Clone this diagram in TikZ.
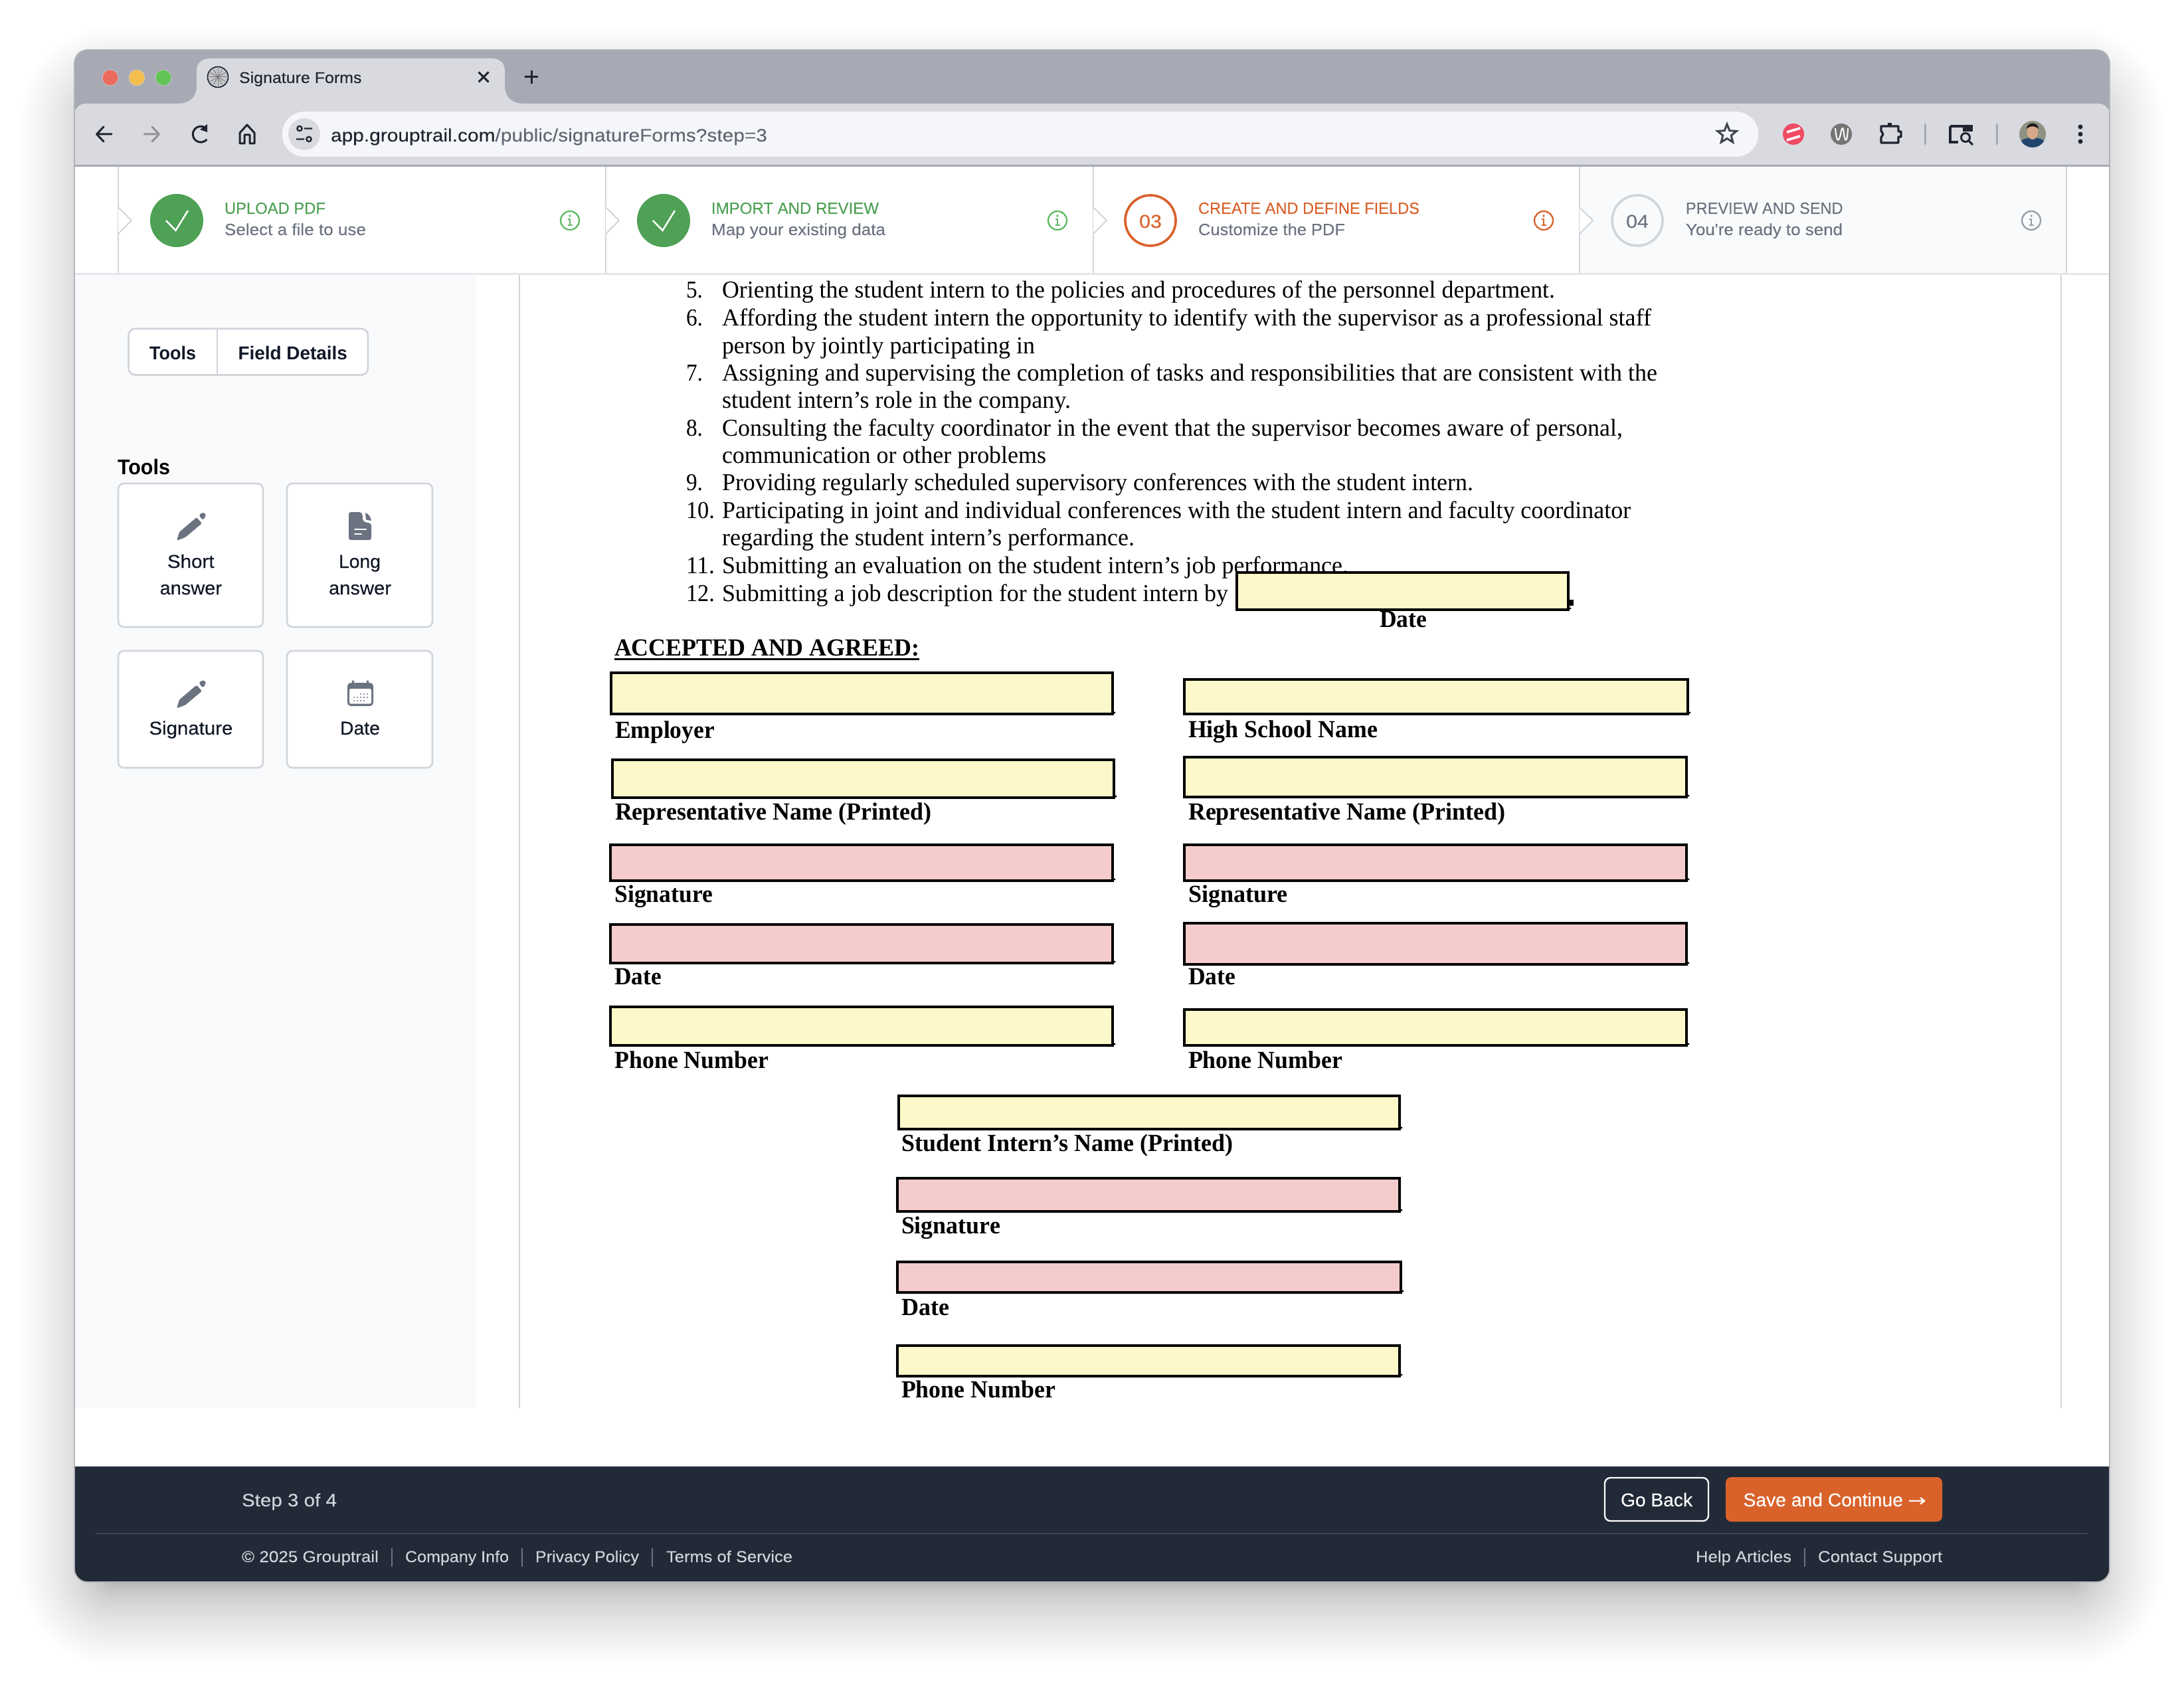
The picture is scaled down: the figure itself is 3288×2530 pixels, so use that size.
\documentclass[tikz,border=0pt]{standalone}
\usepackage{fontspec}
\usepackage{graphicx}
\usetikzlibrary{calc}
\setmainfont{Liberation Serif}
\setsansfont{Liberation Sans}
\newfontfamily\uimed[FakeBold=0.25]{Liberation Sans}
\newfontfamily\uilt[FakeBold=0.1]{Liberation Sans}
\newfontfamily\arrowfont{DejaVu Sans}
\definecolor{strip}{HTML}{A7A9B4}
\definecolor{bar}{HTML}{D9DAE0}
\definecolor{urlbg}{HTML}{F5F6F9}
\definecolor{ink}{HTML}{1F2430}
\definecolor{inkb}{HTML}{111827}
\definecolor{muted}{HTML}{6B7280}
\definecolor{rule}{HTML}{D1D5DB}
\definecolor{rulelt}{HTML}{E5E7EB}
\definecolor{side}{HTML}{F9FAFB}
\definecolor{okgreen}{HTML}{4EA155}
\definecolor{infogreen}{HTML}{5DBB63}
\definecolor{hot}{HTML}{D9622B}
\definecolor{foot}{HTML}{222A38}
\definecolor{footline}{HTML}{3A4352}
\definecolor{yfield}{HTML}{FDF8CA}
\definecolor{pfield}{HTML}{F4CCCB}
\newcounter{tc}
\newsavebox\fwb
\newcommand\FS[1]{\pgfmathsetlengthmacro\fsz{#1*0.3}\fontsize{\fsz}{\fsz}\selectfont}
\newcommand\FW[2]{\sbox\fwb{#2}\pgfmathsetmacro\sx{(#1)*0.3pt/\the\wd\fwb}\scalebox{\sx}[1]{\usebox\fwb}}
% colour, x start, baseline, x end, size, text
\newcommand\UI[6]{\stepcounter{tc}\node[inner sep=0pt,outer sep=0pt,anchor=base west,text=#1] (t\arabic{tc}) at (#2,{#3+1}) {\FW{#4-#2}{\uilt\FS{#5}#6}};}
\newcommand\UIM[6]{\stepcounter{tc}\node[inner sep=0pt,outer sep=0pt,anchor=base west,text=#1] (t\arabic{tc}) at (#2,{#3+1}) {\FW{#4-#2}{\uimed\FS{#5}#6}};}
\newcommand\UIB[6]{\stepcounter{tc}\node[inner sep=0pt,outer sep=0pt,anchor=base west,text=#1] (t\arabic{tc}) at (#2,{#3+1}) {\FW{#4-#2}{\sffamily\bfseries\FS{#5}#6}};}
\newcommand\PD[4]{\stepcounter{tc}\node[inner sep=0pt,outer sep=0pt,anchor=base west,text=black] (t\arabic{tc}) at (#1,{#2+1}) {\FW{#3-#1}{\rmfamily\FS{36.5}#4}};}
\newcommand\PB[4]{\stepcounter{tc}\node[inner sep=0pt,outer sep=0pt,anchor=base west,text=black] (t\arabic{tc}) at (#1,{#2+1}) {\FW{#3-#1}{\rmfamily\bfseries\FS{37}#4}};}
% x1 y1 x2 y2 colour (outer edges)
\newcommand\FIELD[5]{\filldraw[fill=#5,draw=black,line width=1.2pt] ({#1+2},{#2+2}) rectangle ({#3-2},{#4-2});
 \fill[black] ({#3+1},{#4-4}) circle (1.6);}
% step decoration
\newcommand\CHEV[1]{\fill[#1] (\xc,312) -- ({\xc+20},332) -- (\xc,352) -- cycle;
 \draw[rule,line width=.6pt,line join=round] (\xc,312) -- ({\xc+20},332) -- (\xc,352);}
\newcommand\INFO[2]{\draw[#2,line width=.7pt] (#1,332) circle (14);
 \fill[#2] (#1,325) circle (1.8);
 \draw[#2,line width=.6pt] ({#1-3},330) -- (#1,330) -- (#1,339) ({#1-3.5},339) -- ({#1+3.5},339);}
\newcommand\CHECK[1]{\fill[okgreen] (#1,332) circle (40);
 \draw[white,line width=.75pt] ({#1-16},332) -- ({#1-1.5},347) -- ({#1+17},317);}
\newcommand\PENCIL[1]{\begin{scope}[shift={(0,#1)}]
 \fill[muted,rounded corners=.5pt] (266,814) -- (270,801) -- (296,779) -- (304,788) -- (279,809) -- cycle;
 \fill[muted,rounded corners=1pt] (299,776) -- (304,771.5) -- (310,773) -- (309,778) -- (306,783.5) -- cycle;
 \end{scope}}
\begin{document}
\begin{tikzpicture}[x=0.3pt,y=-0.3pt]
\useasboundingbox (0,0) rectangle (3288,2530);
\fill[white] (0,0) rectangle (3288,2530);
% soft window shadow
\foreach \i in {0,...,40}{
  \pgfmathsetmacro\dd{-45+125*pow(\i/40,1.9)}
  \pgfmathsetlengthmacro\rc{(60+\dd)*0.3}
  \fill[black,opacity=.0094,rounded corners=\rc] ({112-\dd},{120-\dd}) rectangle ({3176+\dd},{2427+\dd});
}
% window
\begin{scope}
\clip[rounded corners=6pt] (112,75) rectangle (3176,2382);
\fill[white] (112,75) rectangle (3176,2382);
\fill[strip] (112,75) rectangle (3176,190);
\fill[bar,rounded corners=5pt] (112,156) rectangle (3176,300);
\fill[white] (112,248) rectangle (3176,412);
\draw[line width=.9pt,color=strip] (112,249.5) -- (3176,249.5);
% tab
\fill[bar] (268,156) .. controls (285,156) and (296,146) .. (296,130) -- (296,106) .. controls (296,95) and (304,88) .. (316,88) -- (740,88) .. controls (752,88) and (760,95) .. (760,106) -- (760,130) .. controls (760,146) and (771,156) .. (788,156) -- cycle;
% step row
\fill[side] (2378,252) rectangle (3111,411);
\draw[rulelt,line width=.9pt] (112,412.5) -- (3176,412.5);
\foreach \xc in {178,912,1646,2378,3111}{\draw[rule,line width=.6pt] (\xc,251) -- (\xc,411);}
% sidebar and page
\fill[side] (112,414) rectangle (717,2120);
\draw[rule,line width=.6pt] (782,414) -- (782,2120);
\draw[rule,line width=.6pt] (3103,414) -- (3103,2120);
% footer
\fill[foot] (112,2208) rectangle (3176,2382);
\draw[footline,line width=.7pt] (144,2309) -- (3143,2309);
\end{scope}
\draw[color=rule!85!black,line width=.5pt,rounded corners=6pt] (112,75) rectangle (3176,2382);
\foreach \xc in {178,912,1646,2378}{\CHEV{white}}
% traffic lights
\filldraw[fill={rgb,255:red,237;green,106;blue,94},draw=black!20,line width=.2pt] (166,117) circle (12);
\filldraw[fill={rgb,255:red,245;green,191;blue,79},draw=black!20,line width=.2pt] (206,117) circle (12);
\filldraw[fill={rgb,255:red,98;green,197;blue,85},draw=black!20,line width=.2pt] (246,117) circle (12);
% favicon
\filldraw[fill=bar!80!gray,draw=ink,line width=.5pt] (328,116) circle (15.5);
\foreach \a in {0,30,...,150}{\draw[gray,line width=.3pt] ($(328,116)+(\a:13)$) -- ($(328,116)+(\a+180:13)$);}
\fill[ink!70] (328,116) circle (1.5);
\UI{ink}{360}{124}{544.5}{23.5}{Signature Forms}
\draw[ink,line width=.9pt] (720.5,108.5) -- (735.5,123.5) (735.5,108.5) -- (720.5,123.5);
\draw[ink,line width=.9pt] (790,116) -- (810,116) (800,106) -- (800,126);
% nav icons
\draw[ink,line width=.9pt,line join=round,line cap=round] (168,202) -- (146,202) (156,191) -- (145.5,202) -- (156,213);
\draw[color=gray!85,line width=.9pt,line join=round,line cap=round] (217,202) -- (239,202) (229,191) -- (239.5,202) -- (229,213);
\draw[ink,line width=.9pt] (310,193) arc (-50:-320:12);
\fill[ink] (312,187) -- (312,199) -- (301,195) -- cycle;
\draw[ink,line width=.9pt,line join=round] (361,216) -- (361,200) -- (372,188) -- (383,200) -- (383,216) -- (376,216) -- (376,203) -- (368,203) -- (368,216) -- cycle;
% url bar
\fill[urlbg,rounded corners=10pt] (425,168) rectangle (2647,236);
\fill[bar] (458,202) circle (24);
\draw[ink,line width=.7pt] (451,193.5) circle (3.6) (458,193.5) -- (470,193.5) (446,209.5) -- (458,209.5) (465,209.5) circle (3.6);
\UI{ink}{498}{212}{1155}{27}{app.grouptrail.com{\color{muted!90!black}/public/signatureForms?step=3}}
\draw[ink!85,line width=.9pt,line join=miter] (2600,187) -- (2603.8,196.7) -- (2614.3,197.4) -- (2606.2,204) -- (2608.8,214.1) -- (2600,208.5) -- (2591.2,214.1) -- (2593.8,204) -- (2585.7,197.4) -- (2596.2,196.7) -- cycle;
% extension icons
\fill[color={rgb,255:red,238;green,74;blue,98}] (2700,202) circle (16);
\draw[white,line width=1.1pt] (2690,199) -- (2710,193) (2690,211) -- (2710,205);
\fill[color={rgb,255:red,117;green,117;blue,117}] (2772,202) circle (16);
\draw[white,line width=.6pt,line join=round] (2763,193) .. controls (2765,215) and (2768,215) .. (2771,202) .. controls (2773,190) and (2775,190) .. (2776,202) .. controls (2778,215) and (2781,215) .. (2782,193);
\draw[ink,line width=1pt,line join=round] (2832,190) -- (2858,190) -- (2858,198) -- (2862,198) -- (2862,206) -- (2858,206) -- (2858,215) -- (2832,215) -- (2832,207) -- (2835,202) -- (2832,197) -- cycle;
\fill[ink] (2842,185) rectangle (2848,190);
\draw[color=strip,line width=.9pt,line cap=round] (2898,187) -- (2898,217) (3006,187) -- (3006,217);
\draw[ink,line width=1pt] (2936,190) -- (2936,214) -- (2948,214);
\draw[ink,line width=1pt] (2936,190) -- (2969,190);
\fill[ink] (2955,188) rectangle (2970,198);
\draw[ink,line width=.9pt] (2959,207) circle (6.5) (2964,212) -- (2970,218);
\begin{scope}
\clip (3060,202) circle (20);
\fill[color={rgb,255:red,142;green,146;blue,132}] (3040,182) rectangle (3080,222);
\fill[color={rgb,255:red,32;green,70;blue,110}] (3044,211) .. controls (3052,206) and (3068,206) .. (3076,211) -- (3080,222) -- (3040,222) -- cycle;
\fill[color={rgb,255:red,216;green,168;blue,138}] (3060,198) ellipse (8.5 and 12);
\fill[color={rgb,255:red,30;green,28;blue,28}] (3051,194) .. controls (3051,183) and (3069,183) .. (3069,194) .. controls (3064,189) and (3056,189) .. (3051,194) -- cycle;
\end{scope}
\fill[ink] (3132,191) circle (3.5) (3132,202) circle (3.5) (3132,213) circle (3.5);
% steps
\CHECK{266}
\UI{okgreen}{338}{321}{490}{24.5}{UPLOAD PDF}
\UI{muted}{338}{353}{551}{24.5}{Select a file to use}
\INFO{858}{infogreen}
\CHECK{999}
\UI{okgreen}{1071}{321}{1323}{24.5}{IMPORT AND REVIEW}
\UI{muted}{1071}{353}{1333}{24.5}{Map your existing data}
\INFO{1592}{infogreen}
\draw[hot,line width=1.1pt] (1732,332) circle (38);
\UI{hot}{1715}{342}{1749}{28}{03}
\UI{hot}{1804}{321}{2137}{24.5}{CREATE AND DEFINE FIELDS}
\UI{muted}{1804}{353}{2025}{24.5}{Customize the PDF}
\INFO{2324}{hot}
\draw[rule,line width=1.1pt] (2465,332) circle (38);
\UI{muted}{2448}{342}{2482}{28}{04}
\UI{muted}{2538}{321}{2774.5}{24.5}{PREVIEW AND SEND}
\UI{muted}{2538}{353}{2774}{24.5}{You're ready to send}
\INFO{3058}{muted!70}
% sidebar
\filldraw[fill=white,draw=rule,line width=.8pt,rounded corners=3pt] (193.5,495) rectangle (554,564.5);
\draw[rule,line width=.8pt] (327,495) -- (327,564.5);
\UIB{inkb}{225}{540}{295}{28}{Tools}
\UIB{inkb}{358.5}{540}{523}{28}{Field Details}
\UIB{black}{177}{713}{256}{32}{Tools}
\foreach \ax/\ay/\bx/\by in {178/728/396/944,432/728/651/944,178/980/396/1156,432/980/651/1156}{
 \filldraw[fill=white,draw=rule,line width=.8pt,rounded corners=2.5pt] (\ax,\ay) rectangle (\bx,\by);
}
\PENCIL{0}
\PENCIL{252.5}
\UIM{inkb}{252}{854}{322.5}{28}{Short}
\UIM{inkb}{240.6}{894}{334}{28}{answer}
\UIM{inkb}{510}{854}{573}{28}{Long}
\UIM{inkb}{495}{894}{589}{28}{answer}
\UIM{inkb}{224.5}{1105}{350.4}{28}{Signature}
\UIM{inkb}{512}{1105}{572}{28}{Date}
% document icon
\fill[muted,rounded corners=1pt] (525,771) -- (544,771) .. controls (546,776) and (546,782) .. (548,786) -- (559,788) -- (559,813) -- (525,813) -- cycle;
\fill[muted] (550,772) .. controls (555,774) and (558,778) .. (559,784) -- (551,782.5) -- cycle;
\draw[white,line width=.6pt,line cap=round] (534,797) -- (551,797) (534,804) -- (544,804);
% calendar icon
\fill[muted,rounded corners=1.5pt] (523,1028) rectangle (562,1063);
\fill[muted] (530,1024.5) rectangle (533,1030) (552,1024.5) rectangle (555,1030);
\fill[white,rounded corners=.5pt] (526,1037) rectangle (559,1059.5);
\foreach \px/\py in {533/1050,538/1050,543/1050,548/1050,553/1050,543/1045,548/1045,553/1045,533/1055,538/1055,543/1055,548/1055}{\fill[muted] (\px,\py) circle (1.2);}
% PDF text
\PD{1033}{447}{1058}{5.}
\PD{1087}{447}{2341}{Orienting the student intern to the policies and procedures of the personnel department.}
\PD{1033}{489}{1058}{6.}
\PD{1087}{489}{2486}{Affording the student intern the opportunity to identify with the supervisor as a professional staff}
\PD{1087}{531}{1558}{person by jointly participating in}
\PD{1033}{572}{1058}{7.}
\PD{1087}{572}{2495}{Assigning and supervising the completion of tasks and responsibilities that are consistent with the}
\PD{1087}{613}{1612}{student intern’s role in the company.}
\PD{1033}{655}{1058}{8.}
\PD{1087}{655}{2443}{Consulting the faculty coordinator in the event that the supervisor becomes aware of personal,}
\PD{1087}{696}{1575}{communication or other problems}
\PD{1033}{737}{1058}{9.}
\PD{1087}{737}{2218}{Providing regularly scheduled supervisory conferences with the student intern.}
\PD{1033}{779}{1076}{10.}
\PD{1087}{779}{2455}{Participating in joint and individual conferences with the student intern and faculty coordinator}
\PD{1087}{820}{1708}{regarding the student intern’s performance.}
\PD{1033}{862}{1076}{11.}
\PD{1087}{862}{2030}{Submitting an evaluation on the student intern’s job performance.}
\PD{1033}{904}{1076}{12.}
\PD{1087}{904}{1849}{Submitting a job description for the student intern by}
\fill[black] (2362,903) rectangle (2369,912);
\FIELD{1859.5}{860}{2363}{920}{yfield}
\PB{2077}{943}{2148}{Date}
\PB{925}{986}{1384}{ACCEPTED AND AGREED:}
\draw[black,line width=.9pt] (925,992) -- (1384,992);
% left column
\FIELD{918}{1011}{1677}{1077}{yfield}
\PB{926}{1110}{1076}{Employer}
\FIELD{920}{1142}{1679}{1203}{yfield}
\PB{926}{1233}{1402}{Representative Name (Printed)}
\FIELD{917}{1270}{1677}{1328}{pfield}
\PB{925.5}{1357}{1073}{Signature}
\FIELD{917}{1390}{1677}{1452}{pfield}
\PB{925.5}{1481}{996}{Date}
\FIELD{917}{1514}{1677}{1576}{yfield}
\PB{925.5}{1607}{1157}{Phone Number}
% right column
\FIELD{1781}{1021}{2543}{1077}{yfield}
\PB{1789}{1109}{2074}{High School Name}
\FIELD{1781}{1138}{2541}{1202}{yfield}
\PB{1789}{1233}{2266}{Representative Name (Printed)}
\FIELD{1781}{1270}{2541}{1328}{pfield}
\PB{1789}{1357}{1939}{Signature}
\FIELD{1781}{1388}{2541}{1454}{pfield}
\PB{1789}{1481}{1860}{Date}
\FIELD{1781}{1518}{2541}{1576}{yfield}
\PB{1789}{1607}{2021}{Phone Number}
% centre column
\FIELD{1351}{1648}{2109}{1702}{yfield}
\PB{1357}{1732}{1857}{Student Intern’s Name (Printed)}
\FIELD{1349}{1772}{2109}{1826}{pfield}
\PB{1357}{1856}{1506}{Signature}
\FIELD{1349}{1898}{2111}{1948}{pfield}
\PB{1357}{1979}{1429}{Date}
\FIELD{1349}{2024}{2109}{2074}{yfield}
\PB{1357}{2103}{1589}{Phone Number}
% footer
\UI{rule}{364}{2267}{507}{27}{Step 3 of 4}
\UI{rule}{364}{2351}{570}{24}{© 2025 Grouptrail}
\UI{rule}{610}{2351}{766}{24}{Company Info}
\UI{rule}{806}{2351}{962}{24}{Privacy Policy}
\UI{rule}{1003}{2351}{1193}{24}{Terms of Service}
\UI{rule}{2553}{2351}{2697}{24}{Help Articles}
\UI{rule}{2737}{2351}{2924}{24}{Contact Support}
\foreach \xc in {590,786,982,2717}{\draw[muted,line width=.6pt] (\xc,2331) -- (\xc,2359);}
\draw[white,line width=.7pt,rounded corners=2.5pt] (2416,2225) rectangle (2572,2290);
\UI{white}{2440}{2267}{2548}{28}{Go Back}
\fill[hot,rounded corners=2.5pt] (2598,2224) rectangle (2924,2291);
\UI{white}{2624.5}{2267}{2865}{28}{Save and Continue}
\UI{white}{2872}{2267}{2900}{26}{\arrowfont →}
\end{tikzpicture}
\end{document}
